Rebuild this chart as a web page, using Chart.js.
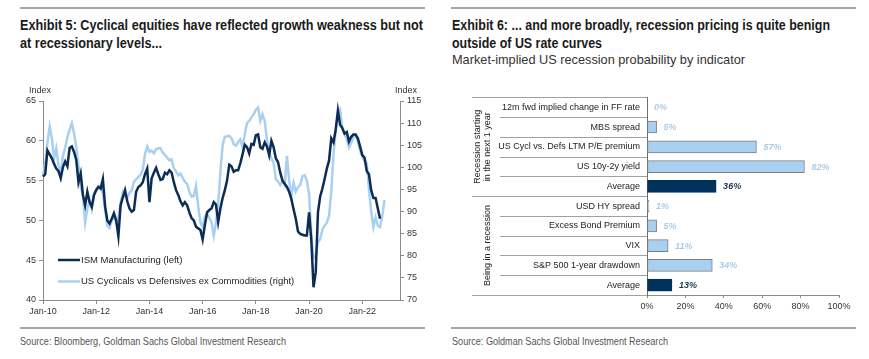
<!DOCTYPE html>
<html>
<head>
<meta charset="utf-8">
<script src="https://cdn.jsdelivr.net/npm/chart.js@4.4.1/dist/chart.umd.min.js"></script>
<style>
  body { margin: 0; background: #fff; }
  #page { position: relative; width: 869px; height: 359px; overflow: hidden; font-family: "Liberation Sans", Arial, sans-serif; }
  .rule { position: absolute; height: 2px; background: #a6a6a6; }
  .txt { position: absolute; white-space: nowrap; transform-origin: 0 0; }
  .title { font-weight: bold; font-size: 14px; line-height: 18px; color: #1a1a1a; }
  .subtitle { font-size: 13.5px; line-height: 16px; color: #333; }
  .source { font-size: 11.5px; line-height: 14px; color: #555; }
  canvas { position: absolute; }
</style>
</head>
<body>
<div id="page">
  <div class="rule" style="left:20px; top:7px; width:405px;"></div>
  <div class="txt title" data-w="403" style="left:20px; top:16px;">Exhibit 5: Cyclical equities have reflected growth weakness but not</div>
  <div class="txt title" data-w="142" style="left:20px; top:33.5px;">at recessionary levels...</div>
  <canvas id="lineChart" width="435" height="240" style="left:0; top:80px;"></canvas>
  <div class="rule" style="left:20px; top:327px; width:405px;"></div>
  <div class="txt source" data-w="266" style="left:20px; top:334px;">Source: Bloomberg, Goldman Sachs Global Investment Research</div>

  <div class="rule" style="left:451px; top:7px; width:405px;"></div>
  <div class="txt title" data-w="378" style="left:452px; top:16px;">Exhibit 6: ... and more broadly, recession pricing is quite benign</div>
  <div class="txt title" data-w="150" style="left:452px; top:33.5px;">outside of US rate curves</div>
  <div class="txt subtitle" data-w="293" style="left:452px; top:52px;">Market-implied US recession probability by indicator</div>
  <canvas id="barChart" width="434" height="235" style="left:435px; top:85px;"></canvas>
  <div class="rule" style="left:451px; top:327px; width:405px;"></div>
  <div class="txt source" data-w="216" style="left:452px; top:334px;">Source: Goldman Sachs Global Investment Research</div>
</div>
<script>
// ---- Exhibit 5 data (monthly, from Jan-10) ----
const ismManufacturing = [
  55.5, 55.8, 58.8, 58.3, 57.8, 57.1, 56.5, 56.2, 55.3, 56.7, 57.4, 56.8,
  59.1, 59.3, 58.6, 57.6, 54.8, 55.9, 53.2, 51.9, 53.6, 52.3, 51.7, 53.2,
  53.8, 54.2, 54.0, 55.2, 51.8, 50.0, 49.6, 50.2, 50.9, 50.0, 48.0, 51.9,
  52.9, 53.8, 52.4, 51.5, 51.1, 51.3, 53.6, 54.2, 54.4, 54.8, 55.8, 56.5,
  52.3, 55.3, 56.0, 56.6, 55.8, 55.1, 55.2, 56.0, 55.8, 56.3, 56.0, 54.8,
  53.8, 53.2, 52.4, 51.9, 52.3, 51.9, 51.0, 50.3, 50.0, 49.2, 49.0, 48.8,
  47.6, 49.4, 51.0, 51.3, 51.5, 52.3, 52.0, 49.8, 51.5, 52.8, 53.8, 55.0,
  57.0, 56.8, 56.1, 56.3, 56.3, 57.2, 58.3, 59.5, 59.2, 58.4, 59.6, 59.5,
  60.7, 60.8, 59.2, 59.0, 59.8, 59.3, 58.2, 60.0, 59.2, 57.8, 57.3, 56.0,
  55.0, 54.6, 54.2, 53.6, 52.7, 51.4, 50.2, 48.6, 48.3, 48.2, 48.1, 48.1,
  51.0, 47.5, 41.6, 43.5, 51.0, 53.0, 54.0, 55.2, 56.5, 57.5, 60.3, 59.8,
  61.4, 63.8, 62.0, 61.6, 60.9, 61.1, 59.9, 60.5, 60.8, 60.8, 60.3, 59.3,
  58.2, 57.9, 56.2, 55.8, 53.8, 52.8, 52.8, 51.5, 50.2
];
const cyclicalsVsDefensives = [
  98.2, 101.0, 105.6, 109.2, 106.5, 102.0, 104.3, 100.5, 99.0, 102.5, 104.5, 106.8,
  108.5, 110.0, 107.7, 104.5, 100.5, 95.6, 93.5, 87.5, 90.7, 92.5, 90.5, 93.8,
  95.0, 95.8, 95.8, 94.0, 90.5, 86.8, 86.3, 88.0, 89.0, 87.5, 88.5, 92.0,
  94.4, 93.5, 93.0, 94.2, 94.8, 96.7, 97.3, 97.8, 98.3, 99.5, 103.0, 104.7,
  103.5, 103.8, 103.2, 104.1, 104.3, 104.3, 103.3, 102.8, 102.2, 101.6, 101.8, 99.8,
  99.1, 98.2, 98.6, 97.6, 96.7, 96.3, 94.5, 93.4, 93.5, 95.8, 91.2, 87.5,
  86.5, 88.8, 89.5, 88.6, 87.6, 84.5, 87.5, 91.8, 99.0, 105.0, 106.9, 107.0,
  107.1, 106.6, 105.3, 104.9, 105.7, 106.3, 104.5, 107.5, 110.0, 110.5, 111.3, 112.0,
  113.0, 113.5, 110.5, 112.0, 110.5, 106.2, 103.6, 102.0, 101.0, 97.3, 96.8, 96.0,
  97.0, 96.0, 102.6, 97.0, 93.5, 96.5, 94.5, 95.5, 96.0, 98.0, 98.2, 97.0,
  94.0, 85.0, 79.4, 80.0, 83.0, 83.8, 85.9, 86.8, 87.5, 89.0, 94.5, 102.9,
  108.5, 112.0, 113.0, 108.8, 107.5, 106.3, 104.5, 105.5, 106.9, 107.2, 105.8, 103.9,
  102.3, 101.5, 100.9, 95.0, 90.0, 86.5, 88.7, 86.8, 86.5, 89.0, 92.6
];
const xTickLabels = ["Jan-10", "Jan-12", "Jan-14", "Jan-16", "Jan-18", "Jan-20", "Jan-22"];
const seriesNames = ["ISM Manufacturing (left)", "US Cyclicals vs Defensives ex Commodities (right)"];

// axis runs Jan-10 .. Jun-23
const monthNames = ["Jan", "Feb", "Mar", "Apr", "May", "Jun", "Jul", "Aug", "Sep", "Oct", "Nov", "Dec"];
const months = [];
for (let i = 0; i < 162; i++) {
  const yy = String(10 + Math.floor(i / 12)).padStart(2, "0");
  months.push(monthNames[i % 12] + "-" + yy);
}

// ---- Exhibit 6 data ----
const barLabels = [
  "12m fwd implied change in FF rate",
  "MBS spread",
  "US Cycl vs. Defs LTM P/E premium",
  "US 10y-2y yield",
  "Average",
  "USD HY spread",
  "Excess Bond Premium",
  "VIX",
  "S&P 500 1-year drawdown",
  "Average"
];
const barValues = [0, 5, 57, 82, 36, 1, 5, 11, 34, 13];
const isAverage = [false, false, false, false, true, false, false, false, false, true];
const groups = [
  { lines: ["Recession starting", "in the next 1 year"], from: 0, to: 4 },
  { lines: ["Being in a recession"], from: 5, to: 9 }
];

const NAVY = "#0c2c54";
const LIGHT = "#a8d0f1";
const AXIS = "#8c8c8c";
const FONT = "'Liberation Sans', Arial, sans-serif";

// squeeze header/source text to the condensed look of the original
document.querySelectorAll("[data-w]").forEach((el) => {
  const w = el.getBoundingClientRect().width;
  el.style.transform = "scaleX(" + (Number(el.dataset.w) / w) + ")";
});

Chart.defaults.font.family = FONT;
Chart.defaults.animation = false;

// legend inside plot + "Index" captions
const lineExtras = {
  id: "lineExtras",
  afterDraw(chart) {
    const ctx = chart.ctx;
    const area = chart.chartArea;
    ctx.save();
    ctx.font = "9px " + FONT;
    ctx.fillStyle = "#333";
    ctx.textBaseline = "middle";
    ctx.textAlign = "left";
    ctx.fillText("Index", 29, area.top - 10);
    ctx.fillText("Index", 395, area.top - 10);

    const colors = [NAVY, LIGHT];
    const rows = [area.top + 159, area.top + 180.5];
    seriesNames.forEach((name, i) => {
      ctx.strokeStyle = colors[i];
      ctx.lineWidth = 2.5;
      ctx.beginPath();
      ctx.moveTo(58, rows[i]);
      ctx.lineTo(80, rows[i]);
      ctx.stroke();
      ctx.fillStyle = "#222";
      ctx.font = "9.5px " + FONT;
      ctx.fillText(name, 81, rows[i]);
    });
    ctx.restore();
  }
};

new Chart(document.getElementById("lineChart"), {
  type: "line",
  data: {
    labels: months,
    datasets: [
      {
        label: seriesNames[0],
        data: ismManufacturing,
        yAxisID: "yL",
        borderColor: NAVY,
        borderWidth: 2.5,
        pointRadius: 0,
        tension: 0
      },
      {
        label: seriesNames[1],
        data: cyclicalsVsDefensives,
        yAxisID: "yR",
        borderColor: LIGHT,
        borderWidth: 2.5,
        pointRadius: 0,
        tension: 0
      }
    ]
  },
  options: {
    responsive: false,
    layout: { padding: { top: 21, left: 0, right: 0, bottom: 0 } },
    plugins: { legend: { display: false }, tooltip: { enabled: false } },
    scales: {
      x: {
        type: "category",
        offset: false,
        grid: { drawOnChartArea: false, tickLength: 4, color: AXIS },
        border: { color: AXIS },
        afterBuildTicks: (s) => {
          s.ticks = s.ticks.filter((t) => xTickLabels.includes(months[t.value]));
        },
        afterFit: (s) => { s.height = 20; },
        ticks: {
          autoSkip: false,
          maxRotation: 0,
          padding: 2,
          color: "#333",
          font: { size: 9 },
          callback: (v) => months[v]
        }
      },
      yL: {
        position: "left",
        min: 40,
        max: 65,
        grid: { drawOnChartArea: false, tickLength: 4, color: AXIS },
        border: { color: AXIS },
        afterFit: (s) => { s.width = 43; },
        ticks: { stepSize: 5, padding: 3, color: "#333", font: { size: 9 } }
      },
      yR: {
        position: "right",
        min: 70,
        max: 115,
        grid: { drawOnChartArea: false, tickLength: 4, color: AXIS },
        border: { color: AXIS },
        afterFit: (s) => { s.width = 35; },
        ticks: { stepSize: 5, padding: 3, color: "#333", font: { size: 9 } }
      }
    }
  },
  plugins: [lineExtras]
});

// separators, group captions and value labels for the bar panel
const barExtras = {
  id: "barExtras",
  afterDraw(chart) {
    const ctx = chart.ctx;
    const area = chart.chartArea;
    const ys = chart.scales.y;
    const n = barLabels.length;
    const step = (area.bottom - area.top) / n;
    ctx.save();
    ctx.strokeStyle = "#a0a0a0";
    ctx.lineWidth = 1;
    for (let i = 0; i <= n; i++) {
      const y = Math.round(area.top + i * step) + 0.5;
      const outer = i === 0 || i === n || groups.some((g) => g.from === i);
      ctx.beginPath();
      ctx.moveTo(outer ? 37 : 65, y);
      ctx.lineTo(area.left, y);
      ctx.stroke();
    }

    ctx.fillStyle = "#222";
    ctx.font = "9px " + FONT;
    ctx.textAlign = "center";
    ctx.textBaseline = "middle";
    groups.forEach((g) => {
      const cy = (ys.getPixelForValue(g.from) + ys.getPixelForValue(g.to)) / 2;
      const xs = g.lines.length === 2 ? [42.5, 52.5] : [52.5];
      g.lines.forEach((line, k) => {
        ctx.save();
        ctx.translate(xs[k], cy);
        ctx.rotate(-Math.PI / 2);
        ctx.fillText(line, 0, 0);
        ctx.restore();
      });
    });

    ctx.textAlign = "left";
    ctx.font = "italic bold 9px " + FONT;
    chart.getDatasetMeta(0).data.forEach((bar, i) => {
      ctx.fillStyle = isAverage[i] ? "#1b3358" : "#a9cbe8";
      ctx.fillText(barValues[i] + "%", bar.x + 7, bar.y + 0.5);
    });
    ctx.restore();
  }
};

new Chart(document.getElementById("barChart"), {
  type: "bar",
  data: {
    labels: barLabels,
    datasets: [{
      data: barValues,
      backgroundColor: isAverage.map((a) => (a ? "#00305c" : LIGHT)),
      borderColor: isAverage.map((a) => (a ? "#00305c" : "#7f7f7f")),
      borderWidth: 1,
      borderSkipped: false,
      barThickness: 12
    }]
  },
  options: {
    indexAxis: "y",
    responsive: false,
    layout: { padding: { top: 5, right: 30, left: 0, bottom: 0 } },
    plugins: { legend: { display: false }, tooltip: { enabled: false } },
    scales: {
      x: {
        min: 0,
        max: 100,
        grid: { drawOnChartArea: false, tickLength: 3, color: AXIS },
        border: { color: AXIS },
        afterFit: (s) => { s.height = 25; },
        ticks: { stepSize: 20, padding: 3, color: "#333", font: { size: 9 }, callback: (v) => v + "%" }
      },
      y: {
        grid: { drawOnChartArea: false, drawTicks: false, color: AXIS },
        border: { color: "#6e6e6e" },
        afterFit: (s) => { s.width = 212; },
        ticks: { padding: 7, color: "#222", font: { size: 9 } }
      }
    }
  },
  plugins: [barExtras]
});
</script>
</body>
</html>
